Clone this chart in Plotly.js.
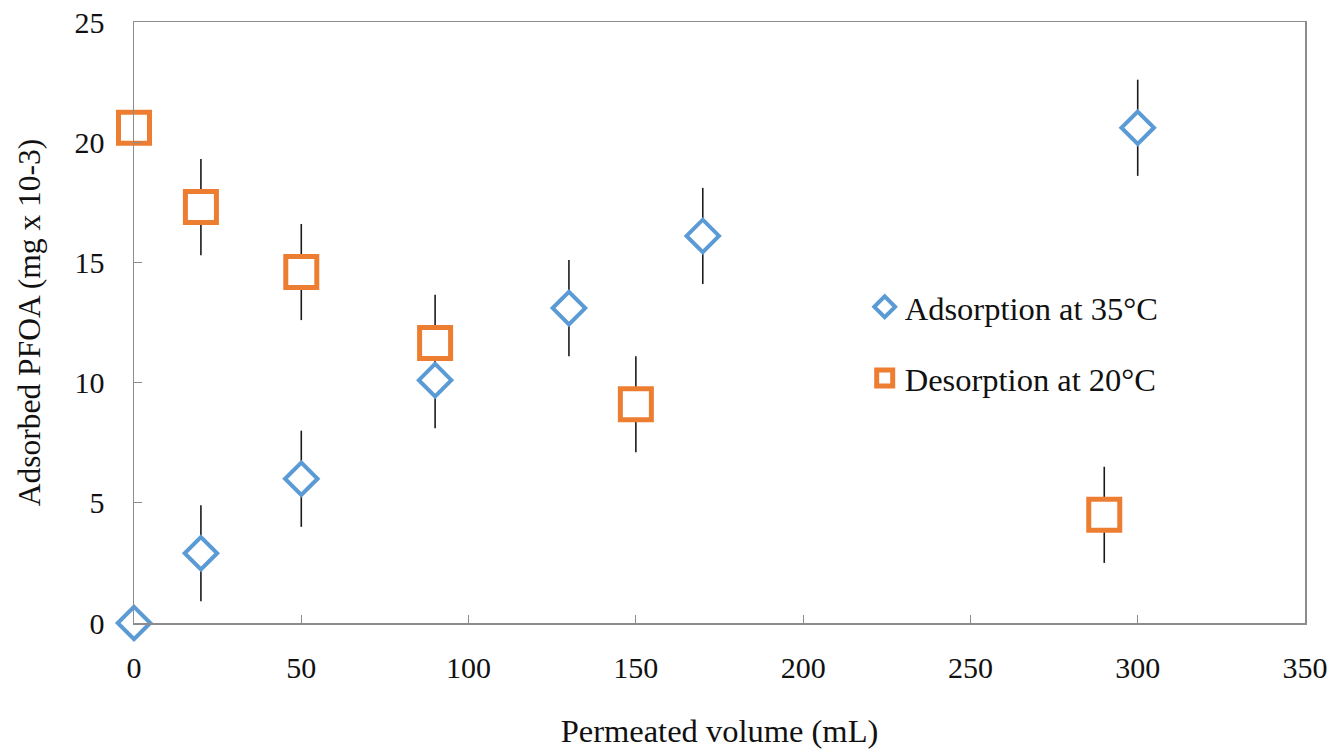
<!DOCTYPE html>
<html>
<head>
<meta charset="utf-8">
<script src="https://cdn.plot.ly/plotly-3.0.1.min.js"></script>
<style>html,body{margin:0;padding:0;background:#fff;}#chart{width:1332px;height:749px;}</style>
</head>
<body>
<div id="chart"></div>
<script>
// Data
const adsVolume = [0, 20, 50, 90, 130, 170, 300];
const adsPFOA   = [0, 2.9, 6.0, 10.1, 13.1, 16.1, 20.6];
const adsError  = [0, 2, 2, 2, 2, 2, 2];

const desVolume = [0, 20, 50, 90, 150, 290];
const desPFOA   = [20.6, 17.3, 14.6, 11.65, 9.1, 4.5];
const desError  = [0, 2, 2, 2, 2, 2];

const adsName = 'Adsorption at 35°C';
const desName = 'Desorption at 20°C';

const BLUE = '#5B9BD5';
const ORANGE = '#ED7D31';
const FONT = 'Liberation Serif, Times New Roman, serif';

function errTrace(x, y, e) {
  return {
    x: x, y: y, type: 'scatter', mode: 'markers',
    marker: {size: 1, color: 'rgba(0,0,0,0)'},
    error_y: {type: 'data', array: e, visible: true, color: '#1a1a1a', thickness: 1.6, width: 0},
    showlegend: false, hoverinfo: 'skip', cliponaxis: false
  };
}

const traces = [
  errTrace(adsVolume, adsPFOA, adsError),
  errTrace(desVolume, desPFOA, desError),
  {
    x: adsVolume, y: adsPFOA, type: 'scatter', mode: 'markers', name: adsName,
    marker: {symbol: 'diamond', size: 25, color: '#ffffff', line: {color: BLUE, width: 4}},
    cliponaxis: false, legendgroup: 'a'
  },
  {
    x: desVolume, y: desPFOA, type: 'scatter', mode: 'markers', name: desName,
    marker: {symbol: 'square', size: 31, color: '#ffffff', line: {color: ORANGE, width: 5}},
    cliponaxis: false, legendgroup: 'b'
  }
];

const axisCommon = {
  showgrid: false, zeroline: false,
  showline: true, linecolor: '#8c8c8c', linewidth: 1.5, mirror: true,
  ticks: 'inside', ticklen: 8, tickcolor: '#8c8c8c', tickwidth: 1.2,
  tickfont: {family: FONT, size: 30, color: '#111'}
};

const layout = {
  width: 1332, height: 749,
  paper_bgcolor: '#ffffff', plot_bgcolor: '#ffffff',
  margin: {l: 134, r: 27, t: 22, b: 126},
  font: {family: FONT, color: '#111'},
  xaxis: Object.assign({}, axisCommon, {
    range: [0, 350], dtick: 50, tick0: 0,
    ticklabelstandoff: 17,
    title: {text: 'Permeated volume (mL)', font: {family: FONT, size: 32.5, color: '#111'}, standoff: 38}
  }),
  yaxis: Object.assign({}, axisCommon, {
    range: [0, 25], dtick: 5, tick0: 0,
    ticklabelstandoff: 22,
    title: {text: 'Adsorbed PFOA (mg x 10-3)', font: {family: FONT, size: 31.5, color: '#111'}, standoff: 24}
  }),
  showlegend: true,
  legend: {
    x: 0.624, xanchor: 'left', y: 0.572, yanchor: 'top',
    bgcolor: 'rgba(255,255,255,0)', borderwidth: 0,
    font: {family: FONT, size: 32.5, color: '#111'},
    traceorder: 'grouped', tracegroupgap: 26,
    itemwidth: 30
  }
};

Plotly.newPlot('chart', traces, layout, {displayModeBar: false, staticPlot: true});
</script>
</body>
</html>
